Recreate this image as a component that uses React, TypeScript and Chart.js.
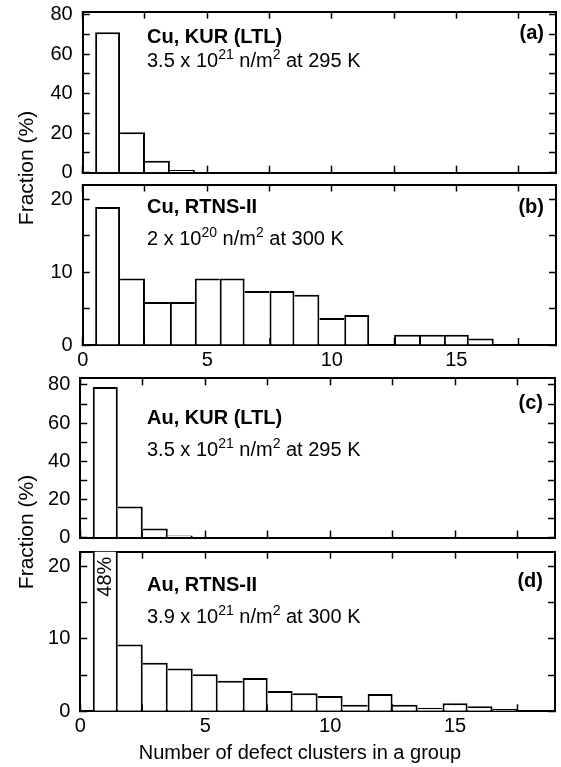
import React, { useEffect, useRef } from 'react';
import { Chart, registerables } from 'chart.js';

Chart.register(...registerables);

const FONT = '"Liberation Sans", Arial, Helvetica, sans-serif';

// ---------- data ----------
const binsA = [1, 2, 3, 4];
const fractionA = [71, 20.5, 6.1, 1.4];

const binsB = [1, 2, 3, 4, 5, 6, 7, 8, 9, 10, 11, 13, 14, 15, 16];
const fractionB = [18.9, 9.1, 5.9, 5.9, 9.1, 9.1, 7.4, 7.4, 6.9, 3.7, 4.1, 1.4, 1.4, 1.4, 0.9];

const binsC = [1, 2, 3, 4];
const fractionC = [79, 16.2, 4.7, 1.0];

const binsD = [1, 2, 3, 4, 5, 6, 7, 8, 9, 10, 11, 12, 13, 14, 15, 16, 17, 18];
const fractionD = [48, 9.2, 6.7, 5.9, 5.1, 4.2, 4.6, 2.8, 2.5, 2.1, 0.9, 2.4, 0.9, 0.5, 1.1, 0.7, 0.3, 0.1];

const xTickLabels = [0, 5, 10, 15];
const yTickLabelsLarge = [0, 20, 40, 60, 80];
const yTickLabelsSmall = [0, 10, 20];

const X_MAX = 19;
const TEXT_X = 147;

type Seg = { t: string; sup?: boolean };
interface PanelSpec {
  bins: number[];
  values: number[];
  top: number;
  bottom: number;
  left: number;
  right: number;
  yMax: number;
  yStep: number;
  yLabels: number[];
  xLabels: boolean;
  title: string;
  sub: Seg[];
  tag: string;
  titleY: number;
  subY: number;
  tagY: number;
  clipNote?: string;
}

const panels: PanelSpec[] = [
  {
    bins: binsA, values: fractionA,
    top: 11.7, bottom: 172.7, left: 82.7, right: 556,
    yMax: 81.4, yStep: 10, yLabels: yTickLabelsLarge, xLabels: false,
    title: 'Cu, KUR (LTL)',
    sub: [{ t: '3.5 x 10' }, { t: '21', sup: true }, { t: ' n/m' }, { t: '2', sup: true }, { t: ' at 295 K' }],
    tag: '(a)', titleY: 31, subY: 55, tagY: 27,
  },
  {
    bins: binsB, values: fractionB,
    top: 184.5, bottom: 345, left: 82.7, right: 556,
    yMax: 22, yStep: 5, yLabels: yTickLabelsSmall, xLabels: true,
    title: 'Cu, RTNS-II',
    sub: [{ t: '2 x 10' }, { t: '20', sup: true }, { t: ' n/m' }, { t: '2', sup: true }, { t: ' at 300 K' }],
    tag: '(b)', titleY: 28.8, subY: 60, tagY: 28.5,
  },
  {
    bins: binsC, values: fractionC,
    top: 378.3, bottom: 537.5, left: 80.3, right: 555,
    yMax: 83.5, yStep: 10, yLabels: yTickLabelsLarge, xLabels: false,
    title: 'Au, KUR (LTL)',
    sub: [{ t: '3.5 x 10' }, { t: '21', sup: true }, { t: ' n/m' }, { t: '2', sup: true }, { t: ' at 295 K' }],
    tag: '(c)', titleY: 46, subY: 78, tagY: 31,
  },
  {
    bins: binsD, values: fractionD,
    top: 551.7, bottom: 711.3, left: 80.3, right: 555,
    yMax: 22, yStep: 5, yLabels: yTickLabelsSmall, xLabels: true,
    title: 'Au, RTNS-II',
    sub: [{ t: '3.9 x 10' }, { t: '21', sup: true }, { t: ' n/m' }, { t: '2', sup: true }, { t: ' at 300 K' }],
    tag: '(d)', titleY: 39, subY: 71.5, tagY: 35,
    clipNote: '48%',
  },
];

const AXIS_W = 2;
const TICK_W = 1.5;
const TICK_LEN = -7;
const BAR_W = 2;

function layoutOf(spec: PanelSpec) {
  const canvasTop = Math.floor(spec.top) - 12;
  const padTop = spec.top - canvasTop;
  const areaBottom = spec.bottom - canvasTop;
  const space = spec.xLabels ? 42 : 12;
  const height = Math.ceil(areaBottom) + space;
  const xAxisHeight = height - areaBottom;
  return { canvasTop, padTop, height, xAxisHeight };
}

function noPad(s: any) {
  s.paddingTop = 0;
  s.paddingBottom = 0;
  s.paddingLeft = 0;
  s.paddingRight = 0;
}

function Panel({ spec }: { spec: PanelSpec }) {
  const ref = useRef<HTMLCanvasElement>(null);
  const lay = layoutOf(spec);

  useEffect(() => {
    if (!ref.current) return;
    const data = spec.bins.map((b, i) => ({ x: b, y: spec.values[i] }));

    const annot = {
      id: 'annot',
      afterDatasetsDraw(chart: any) {
        const ctx = chart.ctx as CanvasRenderingContext2D;
        const a = chart.chartArea;
        ctx.save();
        ctx.fillStyle = '#000';
        ctx.textBaseline = 'alphabetic';
        ctx.textAlign = 'left';
        ctx.font = `bold 20px ${FONT}`;
        ctx.fillText(spec.title, TEXT_X, a.top + spec.titleY);
        let x = TEXT_X;
        for (const s of spec.sub) {
          ctx.font = s.sup ? `14px ${FONT}` : `20px ${FONT}`;
          const y = a.top + spec.subY - (s.sup ? 8 : 0);
          ctx.fillText(s.t, x, y);
          x += ctx.measureText(s.t).width;
        }
        ctx.textAlign = 'right';
        ctx.font = `bold 20px ${FONT}`;
        ctx.fillText(spec.tag, a.right - 12, a.top + spec.tagY);
        if (spec.clipNote) {
          const xs = chart.scales.x;
          ctx.translate(xs.getPixelForValue(spec.bins[0]), a.top + 5);
          ctx.rotate(-Math.PI / 2);
          ctx.textAlign = 'right';
          ctx.textBaseline = 'middle';
          ctx.font = `20px ${FONT}`;
          ctx.fillText(spec.clipNote, 0, 0);
        }
        ctx.restore();
      },
    };

    const grid = {
      offset: false,
      drawOnChartArea: false,
      drawTicks: true,
      tickLength: TICK_LEN,
      tickWidth: TICK_W,
      tickColor: '#000',
      color: '#000',
    };
    const border = { display: true, color: '#000', width: AXIS_W };
    const tickFont = { family: FONT, size: 20 };

    const chart = new Chart(ref.current, {
      type: 'bar',
      data: {
        datasets: [
          {
            data,
            backgroundColor: '#fff',
            borderColor: '#000',
            barPercentage: 1,
            categoryPercentage: 1,
            inflateAmount: 0,
            borderSkipped: 'start',
            borderWidth: (c: any) => {
              const d = c.dataset.data as { x: number; y: number }[];
              const i = c.dataIndex;
              if (i === undefined || !d[i]) return 0;
              const cur = d[i];
              const prev = d[i - 1] && d[i - 1].x === cur.x - 1 ? d[i - 1].y : 0;
              const next = d[i + 1] && d[i + 1].x === cur.x + 1 ? d[i + 1].y : 0;
              return {
                top: BAR_W,
                left: cur.y >= prev ? BAR_W : 0,
                right: cur.y > next ? BAR_W : 0,
                bottom: 0,
              };
            },
          } as any,
        ],
      },
      options: {
        responsive: false,
        animation: false,
        events: [],
        layout: { padding: { top: lay.padTop, right: 561 - spec.right, bottom: 0, left: 0 } },
        plugins: { legend: { display: false }, tooltip: { enabled: false }, title: { display: false } },
        scales: {
          x: {
            type: 'linear',
            position: 'bottom',
            min: 0,
            max: X_MAX,
            offset: false,
            grid,
            border,
            ticks: {
              display: spec.xLabels,
              stepSize: 2.5,
              autoSkip: false,
              includeBounds: false,
              maxRotation: 0,
              padding: 10.5,
              color: '#000',
              font: tickFont,
              callback: (v: any) => (xTickLabels.includes(Number(v)) ? String(v) : ''),
            },
            afterFit: (s: any) => {
              s.height = lay.xAxisHeight;
              noPad(s);
            },
          },
          x2: {
            type: 'linear',
            position: 'top',
            min: 0,
            max: X_MAX,
            offset: false,
            grid,
            border,
            ticks: { display: false, stepSize: 2.5, autoSkip: false, includeBounds: false },
            afterFit: (s: any) => {
              s.height = 0;
              noPad(s);
            },
          },
          y: {
            type: 'linear',
            position: 'left',
            min: 0,
            max: spec.yMax,
            grid,
            border,
            ticks: {
              stepSize: spec.yStep,
              autoSkip: false,
              includeBounds: false,
              padding: 17,
              color: '#000',
              font: tickFont,
              callback: (v: any) => (spec.yLabels.includes(Number(v)) ? String(v) : ''),
            },
            afterFit: (s: any) => {
              s.width = spec.left;
              noPad(s);
            },
          },
          y2: {
            type: 'linear',
            position: 'right',
            min: 0,
            max: spec.yMax,
            grid,
            border,
            ticks: { display: false, stepSize: spec.yStep, autoSkip: false, includeBounds: false },
            afterFit: (s: any) => {
              s.width = 0;
              noPad(s);
            },
          },
        },
      } as any,
      plugins: [annot],
    });
    return () => chart.destroy();
  }, []);

  return (
    <canvas
      ref={ref}
      width={561}
      height={lay.height}
      style={{ position: 'absolute', left: 0, top: lay.canvasTop, width: 561, height: lay.height, display: 'block' }}
    />
  );
}

const yTitleStyle: React.CSSProperties = {
  position: 'absolute',
  left: 25,
  transform: 'translate(-50%, -50%) rotate(-90deg)',
  font: `21px ${FONT}`,
  whiteSpace: 'nowrap',
  lineHeight: 1,
  color: '#000',
};

export default function App() {
  return (
    <div style={{ position: 'absolute', left: 0, top: 0, width: 561, height: 767, background: '#fff', overflow: 'hidden' }}>
      {panels.map((p, i) => (
        <Panel key={i} spec={p} />
      ))}
      <div style={{ ...yTitleStyle, top: 168 }}>Fraction (%)</div>
      <div style={{ ...yTitleStyle, top: 532 }}>Fraction (%)</div>
      <div
        style={{
          position: 'absolute',
          left: 300,
          top: 752,
          transform: 'translate(-50%, -50%)',
          font: `20px ${FONT}`,
          whiteSpace: 'nowrap',
          lineHeight: 1,
          color: '#000',
        }}
      >
        Number of defect clusters in a group
      </div>
    </div>
  );
}
